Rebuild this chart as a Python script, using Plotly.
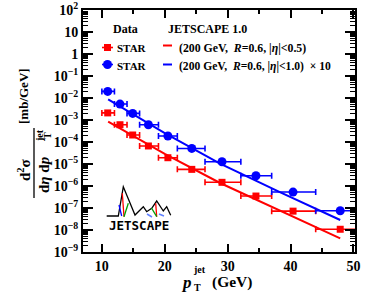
import plotly.graph_objects as go

# ---------------- data ----------------
pt_center = [10.93, 12.88, 14.9, 17.4, 20.5, 24.3, 29.1, 34.5, 40.4, 47.9]
pt_lo = [10.0, 12.0, 14.0, 16.0, 19.0, 22.0, 26.4, 32.1, 37.0, 44.0]
pt_hi = [12.0, 14.0, 16.0, 19.0, 22.0, 26.4, 32.1, 37.0, 44.0, 52.0]
star_eta05 = [2.1e-3, 6.1e-4, 2.08e-4, 6.6e-5, 1.93e-5, 5.7e-6, 1.47e-6, 3.5e-7, 7.2e-8, 1.08e-8]
star_eta10_x10 = [2.0e-2, 5.3e-3, 2.0e-3, 6.1e-4, 1.87e-4, 5.1e-5, 1.27e-5, 2.94e-6, 5.3e-7, 7.5e-8]

theory_pt = [11.0, 20.0, 28.8, 38.3, 47.9]
jetscape_eta05 = [8.4e-4, 2.85e-5, 1.37e-6, 7.7e-8, 4.2e-9]
jetscape_eta10_x10 = [8.7e-3, 2.56e-4, 1.05e-5, 5.3e-7, 2.85e-8]

y_tickvals = [1e-9, 1e-8, 1e-7, 1e-6, 1e-5, 1e-4, 1e-3, 1e-2, 1e-1, 1, 10, 100]
y_ticktext = ["10<sup>\u22129</sup>", "10<sup>\u22128</sup>", "10<sup>\u22127</sup>",
              "10<sup>\u22126</sup>", "10<sup>\u22125</sup>", "10<sup>\u22124</sup>",
              "10<sup>\u22123</sup>", "10<sup>\u22122</sup>", "10<sup>\u22121</sup>",
              "1", "10", "10<sup>2</sup>"]

# ---------------- layout geometry ----------------
W, H = 374, 297
L, R, T, B = 83, 19, 10, 45
PW, PH = W - L - R, H - T - B
RED, BLUE = "#ff0000", "#0000ff"
SERIF = "Liberation Serif"


def px(x):
    return (x - L) / PW


def py(y):
    return (H - B - y) / PH


err_plus = [h - c for h, c in zip(pt_hi, pt_center)]
err_minus = [c - l for c, l in zip(pt_center, pt_lo)]

fig = go.Figure()
fig.add_trace(go.Scatter(
    x=theory_pt, y=jetscape_eta05, mode="lines",
    line=dict(color=RED, width=2), showlegend=False))
fig.add_trace(go.Scatter(
    x=theory_pt, y=jetscape_eta10_x10, mode="lines",
    line=dict(color=BLUE, width=2), showlegend=False))
fig.add_trace(go.Scatter(
    x=pt_center, y=star_eta05, mode="markers",
    marker=dict(symbol="square", size=7, color=RED),
    error_x=dict(type="data", symmetric=False, array=err_plus, arrayminus=err_minus,
                 color=RED, thickness=1.6, width=3),
    showlegend=False))
fig.add_trace(go.Scatter(
    x=pt_center, y=star_eta10_x10, mode="markers",
    marker=dict(symbol="circle", size=9, color=BLUE),
    error_x=dict(type="data", symmetric=False, array=err_plus, arrayminus=err_minus,
                 color=BLUE, thickness=1.6, width=3),
    showlegend=False))

ann = []
shapes = []


def text(x, y, s, size, xanchor="center", angle=0, italic=False):
    ann.append(dict(x=px(x), y=py(y), xref="paper", yref="paper", text=s,
                    showarrow=False, xanchor=xanchor, yanchor="middle",
                    textangle=angle,
                    font=dict(family=SERIF, size=size, color="black", weight="bold",
                              style="italic" if italic else "normal")))


def seg(x0, y0, x1, y1, color, width=1.5):
    shapes.append(dict(type="line", xref="paper", yref="paper",
                       x0=px(x0), y0=py(y0), x1=px(x1), y1=py(y1),
                       line=dict(color=color, width=width)))


# ---------------- legend (manual, ROOT style) ----------------
text(111, 29, "Data", 12, "left")
text(166, 29, "JETSCAPE 1.0", 12, "left")
# row 1
seg(102, 47.5, 113, 47.5, RED, 1.6)
shapes.append(dict(type="rect", xref="paper", yref="paper", x0=px(104), x1=px(111),
                   y0=py(51), y1=py(44), fillcolor=RED, line=dict(width=0)))
text(115, 48, "STAR", 11, "left")
seg(163, 45.5, 172, 45.5, RED, 2)
text(177, 48, "(200\u00a0GeV,\u00a0\u00a0<i>R</i>=0.6,\u00a0|<i>\u03b7</i>|&lt;0.5)", 11.8, "left")
# row 2
seg(102, 64.5, 113, 64.5, BLUE, 1.6)
shapes.append(dict(type="circle", xref="paper", yref="paper", x0=px(103), x1=px(112),
                   y0=py(69), y1=py(60), fillcolor=BLUE, line=dict(width=0)))
text(115, 66, "STAR", 11, "left")
seg(163, 64.5, 172, 64.5, BLUE, 2)
text(177, 66, "(200\u00a0GeV,\u00a0\u00a0<i>R</i>=0.6,\u00a0|<i>\u03b7</i>|&lt;1.0)\u00a0\u00a0\u00d7\u00a010", 11.6, "left")

# ---------------- axis titles ----------------
# x title
text(186, 282, "p", 17, italic=True)
text(199, 269, "jet", 10)
text(197, 287, "T", 10)
text(232, 281.5, "(GeV)", 15.5)
# y title (rotated fraction)
text(23, 96, "[mb/GeV]", 13, angle=-90)
text(24, 170, "d<sup>2</sup>\u03c3", 15, angle=-90)
seg(34, 128, 34, 198, "black", 1.3)
text(44, 175, "d<i>\u03b7</i>\u00a0d<i>p</i>", 15, angle=-90)
text(39, 136, "jet", 10, angle=-90)
text(47, 136, "T", 10, angle=-90)

# ---------------- JETSCAPE logo ----------------
logo = [(106.7, 216), (118.3, 216), (123.3, 186.7), (135, 215), (143.3, 206.7),
        (146.7, 211.7), (151.7, 208.3), (156.7, 201), (163.3, 211), (166.7, 206.7),
        (170.7, 215.3)]
path = "M " + " L ".join(f"{px(a):.4f},{py(b):.4f}" for a, b in logo)
shapes.append(dict(type="path", xref="paper", yref="paper", path=path,
                   line=dict(color="black", width=1.3)))
seg(122.3, 193.3, 124, 216.7, RED, 1.3)
seg(124, 216.7, 128.3, 203.3, "#00a000", 1.3)
seg(119, 205, 121.7, 216, BLUE, 1.3)
seg(155.7, 203.3, 156.7, 216.7, RED, 1.3)
seg(151.5, 208, 156.7, 216.7, "#00a000", 1.3)
shapes.append(dict(type="path", xref="paper", yref="paper",
                   path=f"M {px(147):.4f},{py(214):.4f} L {px(152):.4f},{py(217):.4f} "
                        f"M {px(159):.4f},{py(214):.4f} L {px(164):.4f},{py(216):.4f}",
                   line=dict(color="#6080ff", width=1.5)))
ann.append(dict(x=px(138.5), y=py(225), xref="paper", yref="paper", text="<b>JETSCAPE</b>",
                showarrow=False, xanchor="center", yanchor="middle",
                font=dict(family="DejaVu Sans Mono", size=12.5, color="black")))

fig.update_layout(
    width=W, height=H,
    margin=dict(l=L, r=R, t=T, b=B, pad=0, autoexpand=False),
    paper_bgcolor="white", plot_bgcolor="white",
    showlegend=False,
    annotations=ann, shapes=shapes,
    xaxis=dict(range=[7, 50.25], showgrid=False, zeroline=False, automargin=False,
               showline=True, linecolor="black", linewidth=2, mirror="ticks",
               ticks="inside", ticklen=8, tickwidth=1.5, tickcolor="black",
               tick0=0, dtick=10,
               minor=dict(ticks="inside", ticklen=4, tickwidth=1.5, tickcolor="black", dtick=5),
               tickfont=dict(family=SERIF, size=14, color="black", weight="bold")),
    yaxis=dict(type="log", range=[-9, 2], showgrid=False, zeroline=False, automargin=False,
               showline=True, linecolor="black", linewidth=2, mirror="ticks",
               ticks="inside", ticklen=10, tickwidth=1.5, tickcolor="black",
               tickvals=y_tickvals, ticktext=y_ticktext,
               minor=dict(ticks="inside", ticklen=5, tickwidth=1, tickcolor="black", dtick="D1"),
               tickfont=dict(family=SERIF, size=14, color="black", weight="bold")),
)

fig.write_html("out.html", config={"displayModeBar": False},
               post_script="document.body.style.margin='0';document.body.style.padding='0';")
